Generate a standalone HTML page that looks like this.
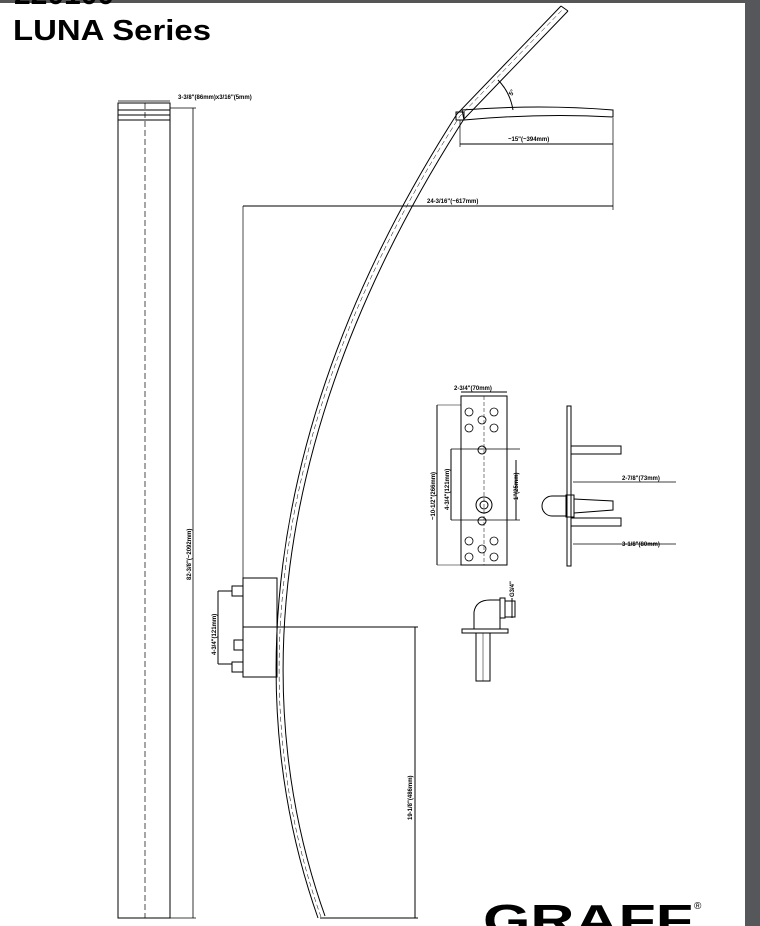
<!DOCTYPE html>
<html><head><style>
html,body{margin:0;padding:0;background:#fff;width:760px;height:926px;overflow:hidden;font-family:"Liberation Sans",sans-serif}
</style></head><body>
<svg width="760" height="926" viewBox="0 0 760 926" xmlns="http://www.w3.org/2000/svg" font-family="Liberation Sans, sans-serif">
<rect x="0" y="0" width="760" height="3" fill="#555"/>
<rect x="745" y="0" width="15" height="926" fill="#55575a"/>
<text x="14" y="4" font-size="30" font-weight="bold" fill="#000">220100</text>
<text x="13" y="40" font-size="29" fill="#000" font-weight="bold" textLength="198" lengthAdjust="spacingAndGlyphs">LUNA Series</text>

<g stroke="#000" fill="none" stroke-width="1">
<rect x="118" y="103" width="52" height="815"/>
<line x1="118" y1="110" x2="170" y2="110"/><line x1="118" y1="115" x2="170" y2="115"/><line x1="118" y1="120" x2="170" y2="120"/>
<line x1="145" y1="103" x2="145" y2="918" stroke-dasharray="6,3" stroke-width="0.7"/>
<line x1="118" y1="101" x2="170" y2="101" stroke-width="0.7"/>
<line x1="170" y1="108" x2="196" y2="108" stroke-width="0.7"/>
<line x1="193" y1="108" x2="193" y2="918" stroke-width="0.8"/>
<line x1="170" y1="918" x2="196" y2="918" stroke-width="0.8"/>
<path d="M318,918 C248,720 248,440 457,114 L561,6"/>
<path d="M325,916 C255,720 255,445 464,119 L568,11"/>
<path d="M321,917 C251,720 251,442 460,116 L564,8" stroke-dasharray="5,3" stroke-width="0.5"/>
<line x1="561" y1="6" x2="568" y2="11"/>
<path d="M462,110 Q540,104 613,110 L613,117 Q540,113 464,120 Z"/>
<rect x="456" y="112" width="8" height="8"/>
<path d="M498,80 Q510,92 513,110"/>
<line x1="460" y1="120" x2="460" y2="147" stroke-width="0.7"/>
<line x1="613" y1="118" x2="613" y2="210" stroke-width="0.7"/>
<line x1="460" y1="144" x2="613" y2="144"/>
<line x1="243" y1="206" x2="613" y2="206"/>
<line x1="243" y1="206" x2="243" y2="580" stroke-width="0.7"/>
<rect x="243" y="578" width="34" height="99"/>
<line x1="243" y1="627" x2="418" y2="627"/>
<line x1="415" y1="627" x2="415" y2="918"/>
<line x1="320" y1="918" x2="418" y2="918"/>
<rect x="232" y="586" width="11" height="10"/><rect x="234" y="640" width="9" height="10"/><rect x="232" y="662" width="11" height="10"/>
<line x1="218" y1="591" x2="232" y2="591"/><line x1="218" y1="664" x2="232" y2="664"/>
<line x1="218" y1="591" x2="218" y2="664"/>
<rect x="461" y="396" width="46" height="169"/>
<line x1="484" y1="396" x2="484" y2="565" stroke-dasharray="4,2" stroke-width="0.5"/>
<line x1="451" y1="449" x2="520" y2="449" stroke-width="0.7"/>
<line x1="451" y1="449" x2="451" y2="520"/>
<line x1="451" y1="520" x2="520" y2="520" stroke-width="0.7"/>
<line x1="516" y1="460" x2="516" y2="520"/>
<line x1="437" y1="405" x2="437" y2="565"/>
<line x1="437" y1="405" x2="461" y2="405" stroke-width="0.6"/>
<line x1="437" y1="565" x2="461" y2="565" stroke-width="0.6"/>
<line x1="461" y1="392" x2="507" y2="392"/>
<circle cx="484" cy="505" r="8"/><circle cx="484" cy="505" r="4"/>
<circle cx="482" cy="450" r="4"/><circle cx="482" cy="521" r="4"/>
<g stroke-width="0.8">
<circle cx="469" cy="412" r="4"/><circle cx="494" cy="412" r="4"/><circle cx="482" cy="420" r="4"/><circle cx="469" cy="428" r="4"/><circle cx="494" cy="428" r="4"/>
<circle cx="469" cy="541" r="4"/><circle cx="494" cy="541" r="4"/><circle cx="482" cy="549" r="4"/><circle cx="469" cy="557" r="4"/><circle cx="494" cy="557" r="4"/>
</g>
<rect x="567" y="406" width="4" height="160"/>
<rect x="571" y="446" width="50" height="8"/>
<rect x="571" y="518" width="50" height="8"/>
<path d="M566,496 L552,496 A10,10 0 0 0 552,516 L566,516"/>
<rect x="566" y="495" width="8" height="22"/>
<path d="M574,499 L613,501 L613,510 L574,513"/>
<line x1="573" y1="482" x2="613" y2="482" stroke-width="0.7"/>
<line x1="573" y1="544" x2="620" y2="544" stroke-width="0.7"/>
<line x1="613" y1="482" x2="676" y2="482" stroke-width="0.7"/>
<line x1="620" y1="544" x2="676" y2="544" stroke-width="0.7"/>
<rect x="462" y="629" width="46" height="4"/>
<path d="M474,629 L474,612 Q476,600 490,600 L500,600 L500,629"/>
<rect x="500" y="598" width="5" height="20"/><rect x="505" y="601" width="10" height="16"/>
<rect x="476" y="633" width="14" height="48"/>
<line x1="483" y1="633" x2="483" y2="681" stroke-width="0.5"/>
<line x1="512" y1="598" x2="512" y2="618"/>
</g>
<g font-size="6" font-weight="bold" fill="#000">
<text x="178" y="99">3-3/8"(86mm)x3/16"(5mm)</text>
<text x="508" y="141">~15"(~394mm)</text>
<text x="427" y="203">24-3/16"(~617mm)</text>
<text x="454" y="390">2-3/4"(70mm)</text>
<text x="622" y="480">2-7/8"(73mm)</text>
<text x="622" y="546">3-1/8"(80mm)</text>
<text transform="translate(191,580) rotate(-90)">82-3/8"(~2092mm)</text>
<text transform="translate(216,655) rotate(-90)">4-3/4"(121mm)</text>
<text transform="translate(412,820) rotate(-90)">19-1/8"(486mm)</text>
<text transform="translate(435,520) rotate(-90)">~10-1/2"(266mm)</text>
<text transform="translate(449,510) rotate(-90)">4-3/4"(121mm)</text>
<text transform="translate(518,500) rotate(-90)">1"(25mm)</text>
<text transform="translate(514,597) rotate(-90)">G3/4"</text>
<text transform="translate(512,96) rotate(-60)">5°</text>
</g>
<text x="483" y="935" font-size="44" font-weight="bold" fill="#000" textLength="210" lengthAdjust="spacingAndGlyphs">GRAFF</text>
<text x="694" y="909" font-size="10" fill="#000">®</text>
</svg>
</body></html>
